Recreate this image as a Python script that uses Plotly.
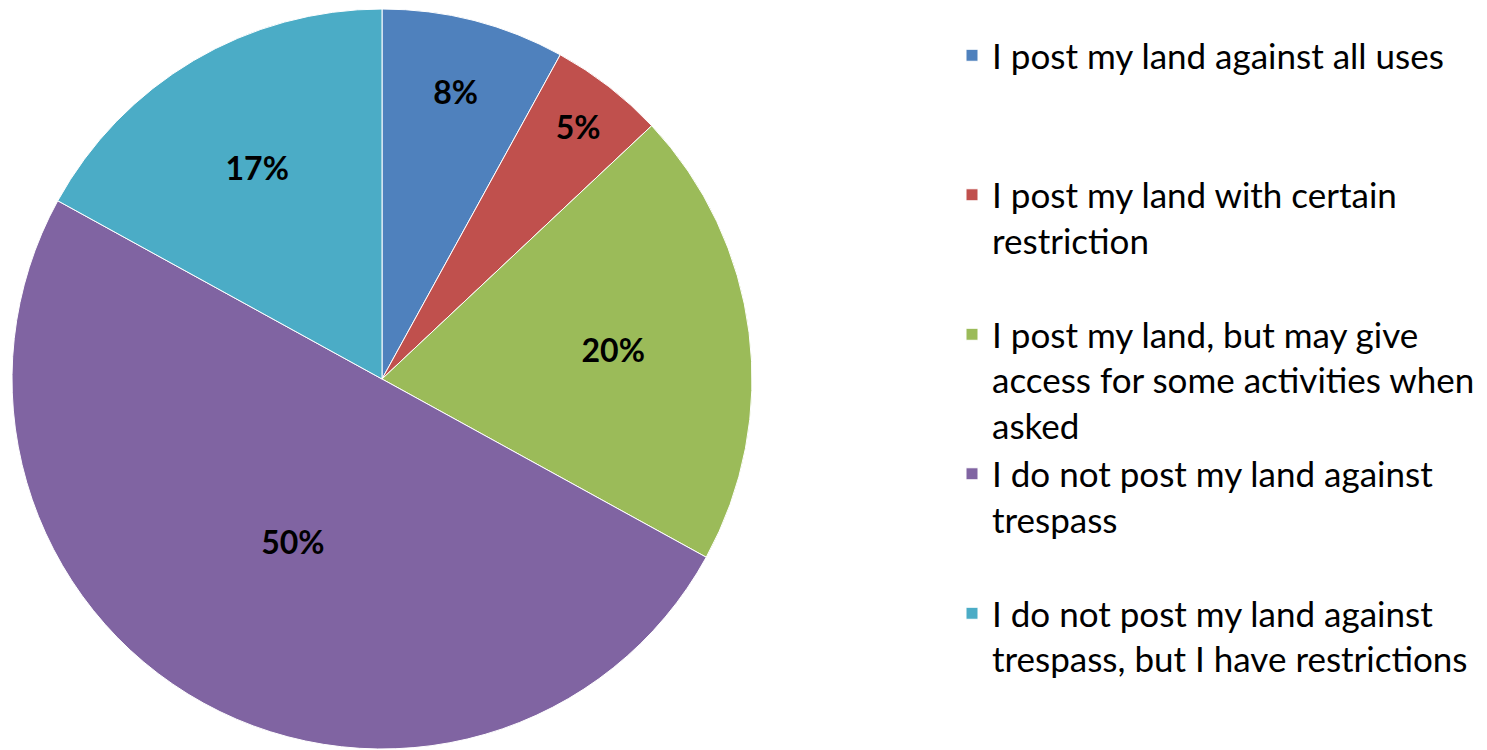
import plotly.graph_objects as go

labels = [
    "I post my land against all uses",
    "I post my land with certain restriction",
    "I post my land, but may give access for some activities when asked",
    "I do not post my land against trespass",
    "I do not post my land against trespass, but I have restrictions",
]
legend_text = [
    "I post my land against all uses<br> <br> ",
    "I post my land with certain<br>restriction<br> ",
    "I post my land, but may give<br>access for some activities when<br>asked",
    "I do not post my land against<br>trespass<br> ",
    "I do not post my land against<br>trespass, but I have restrictions",
]
values = [8, 5, 20, 50, 17]
colors = ["#4F81BD", "#C0504D", "#9BBB59", "#8064A2", "#4BACC6"]

fig = go.Figure(go.Pie(
    labels=legend_text,
    values=values,
    sort=False,
    direction="clockwise",
    rotation=0,
    marker=dict(colors=colors, line=dict(color="#FFFFFF", width=1)),
    texttemplate="%{percent:.0%}",
    textposition="inside",
    insidetextorientation="horizontal",
    textfont=dict(family="Lato", size=32, color="#000000", weight="bold"),
    hoverinfo="skip",
    domain=dict(x=[0, 748 / 1487], y=[0, 1]),
))

fig.update_layout(
    width=1487, height=750,
    margin=dict(l=0, r=0, t=1, b=9),
    paper_bgcolor="white",
    plot_bgcolor="white",
    showlegend=True,
    legend=dict(
        x=944 / 1487, xanchor="left",
        y=0.977, yanchor="top",
        valign="top",
        font=dict(family="Lato", size=35, color="#000000"),
        bgcolor="rgba(0,0,0,0)",
    ),
    uniformtext=dict(minsize=32, mode="show"),
)

fig.write_html("out.html")
